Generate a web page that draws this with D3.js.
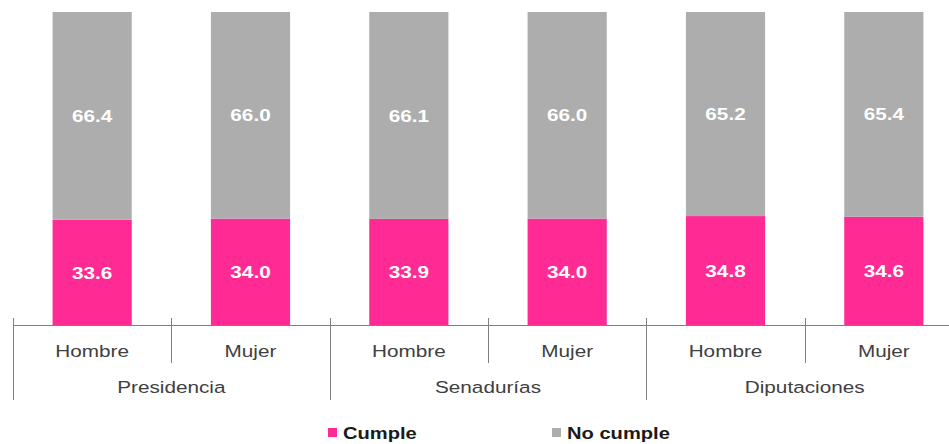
<!DOCTYPE html>
<html>
<head>
<meta charset="utf-8">
<script src="https://cdn.jsdelivr.net/npm/d3@7"></script>
<style>
  html, body { margin: 0; padding: 0; background: #fff; }
  svg { display: block; font-family: "Liberation Sans", Arial, sans-serif; }
</style>
</head>
<body>
<svg id="chart" width="949" height="444"></svg>
<script>
const groups = ["Presidencia", "Senadurías", "Diputaciones"];
const sexes = ["Hombre", "Mujer"];
const cumple = [33.6, 34.0, 33.9, 34.0, 34.8, 34.6];
const noCumple = [66.4, 66.0, 66.1, 66.0, 65.2, 65.4];
const seriesNames = ["Cumple", "No cumple"];
const colors = ["#FF2A93", "#ADADAD"];

const rows = [];
groups.forEach((g, gi) => sexes.forEach((s, si) => {
  const i = gi * sexes.length + si;
  rows.push({ key: i, group: g, sex: s, "Cumple": cumple[i], "No cumple": noCumple[i] });
}));

const svg = d3.select("#chart");
const x0 = 13, x1 = 963, yBase = 325, yTop = 12;
const sx = 1.22;

const x = d3.scaleBand().domain(rows.map(d => d.key)).range([x0, x1]).paddingInner(0.5).paddingOuter(0.25);
const y = d3.scaleLinear().domain([0, 100]).range([yBase, yTop]);
const color = d3.scaleOrdinal().domain(seriesNames).range(colors);

const stack = d3.stack().keys(seriesNames)(rows);

svg.append("g").selectAll("g").data(stack).join("g")
  .attr("fill", s => color(s.key))
  .selectAll("rect").data(s => s.map(p => ({ p, key: s.key }))).join("rect")
  .attr("x", d => x(d.p.data.key))
  .attr("width", x.bandwidth())
  .attr("y", d => y(d.p[1]))
  .attr("height", d => y(d.p[0]) - y(d.p[1]));

// value labels
svg.append("g").selectAll("g").data(stack).join("g")
  .selectAll("text").data(s => s.map(p => ({ p, key: s.key }))).join("text")
  .attr("transform", d => `translate(${x(d.p.data.key) + x.bandwidth() / 2},${(y(d.p[0]) + y(d.p[1])) / 2}) scale(${sx},1)`)
  .attr("text-anchor", "middle")
  .attr("dy", "0.36em")
  .attr("fill", "#fff")
  .attr("font-weight", "bold")
  .attr("font-size", 17)
  .text(d => (d.p[1] - d.p[0]).toFixed(1));

// axis
const step = x.step();
const axis = svg.append("g").attr("stroke", "#7f7f7f").attr("stroke-width", 1);
axis.append("line").attr("x1", x0).attr("x2", 949).attr("y1", yBase + 0.5).attr("y2", yBase + 0.5);
// boundaries between bands
d3.range(rows.length + 1).forEach(i => {
  const bx = Math.round(x0 + i * step) + 0.5;
  const isGroup = i % sexes.length === 0;
  axis.append("line").attr("x1", bx).attr("x2", bx)
    .attr("y1", 318).attr("y2", isGroup ? 400 : 363);
});

// sex labels
svg.append("g").selectAll("text").data(rows).join("text")
  .attr("transform", d => `translate(${x(d.key) + x.bandwidth() / 2},357) scale(${sx},1)`)
  .attr("text-anchor", "middle")
  .attr("fill", "#404040")
  .attr("font-size", 17)
  .text(d => d.sex);

// group labels
svg.append("g").selectAll("text").data(groups).join("text")
  .attr("transform", (g, gi) => `translate(${x0 + (gi + 0.5) * sexes.length * step},393) scale(${sx},1)`)
  .attr("text-anchor", "middle")
  .attr("fill", "#404040")
  .attr("font-size", 17)
  .text(g => g);

// legend
const legendX = [328, 552];
const leg = svg.append("g").selectAll("g").data(seriesNames).join("g")
  .attr("transform", (d, i) => `translate(${legendX[i]},0)`);
leg.append("rect").attr("x", 0).attr("y", 428).attr("width", 9).attr("height", 9)
  .attr("fill", d => color(d));
leg.append("text")
  .attr("transform", `translate(15,439) scale(${sx},1)`)
  .attr("fill", "#1a1a1a")
  .attr("font-weight", "bold")
  .attr("font-size", 16.5)
  .text(d => d);
</script>
</body>
</html>
